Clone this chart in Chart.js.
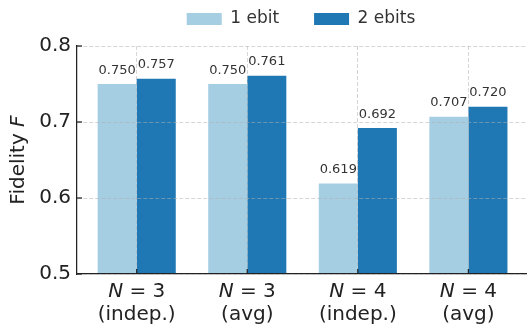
<!DOCTYPE html>
<html><head><meta charset="utf-8">
<script src="https://cdn.jsdelivr.net/npm/chart.js@4"></script>
<style>html,body{margin:0;padding:0;background:#fff;}canvas{display:block;}</style>
</head><body>
<canvas id="c" width="527" height="325" style="width:527px;height:325px"></canvas>
<script>
const categories = [['N = 3', '(indep.)'], ['N = 3', '(avg)'], ['N = 4', '(indep.)'], ['N = 4', '(avg)']];
const seriesNames = ['1 ebit', '2 ebits'];
const series1 = [0.750, 0.750, 0.619, 0.707];
const series2 = [0.757, 0.761, 0.692, 0.720];
const yTicks = [0.5, 0.6, 0.7, 0.8];
const yTitle = ['Fidelity ', 'F'];

const FONT = "'DejaVu Sans'";
Chart.defaults.font.family = FONT;
const gridColor = 'rgba(176,176,176,0.65)';
const axisColor = '#222';

const extras = {
  id: 'extras',
  afterLayout(chart) {
    // centre the legend over the plot area, as in the reference
    if (chart.legend) { chart.legend.left = chart.chartArea.left - 2; }
  },
  afterDraw(chart) {
    const ctx = chart.ctx;
    const xs = chart.scales.x, ys = chart.scales.y;
    const area = chart.chartArea;
    ctx.save();
    // inward tick marks
    ctx.strokeStyle = axisColor; ctx.lineWidth = 1.25;
    ys.ticks.forEach(t => {
      const y = ys.getPixelForValue(t.value);
      ctx.beginPath(); ctx.moveTo(area.left, y); ctx.lineTo(area.left + 5, y); ctx.stroke();
    });
    xs.ticks.forEach(t => {
      const x = xs.getPixelForValue(t.value);
      ctx.beginPath(); ctx.moveTo(x, area.bottom); ctx.lineTo(x, area.bottom - 5); ctx.stroke();
    });
    // value labels
    ctx.fillStyle = '#333';
    ctx.font = '13px ' + FONT;
    ctx.textAlign = 'center'; ctx.textBaseline = 'alphabetic';
    chart.data.datasets.forEach((ds, di) => {
      const meta = chart.getDatasetMeta(di);
      meta.data.forEach((bar, i) => {
        ctx.fillText(ds.data[i].y.toFixed(3), bar.x, bar.y - 10.5);
      });
    });
    // x category labels (italic N)
    ctx.fillStyle = axisColor;
    categories.forEach((lines, i) => {
      const x = xs.getPixelForValue(i);
      const first = lines[0];
      const a = first.slice(0, 1), b = first.slice(1);
      ctx.textAlign = 'left';
      ctx.font = 'italic 20px ' + FONT;
      const wa = ctx.measureText(a).width;
      ctx.font = '20px ' + FONT;
      const wb = ctx.measureText(b).width;
      const x0 = x - (wa + wb) / 2;
      ctx.font = 'italic 20px ' + FONT;
      ctx.fillText(a, x0, area.bottom + 22.5);
      ctx.font = '20px ' + FONT;
      ctx.fillText(b, x0 + wa, area.bottom + 22.5);
      ctx.textAlign = 'center';
      ctx.fillText(lines[1], x, area.bottom + 46);
    });
    // y title
    ctx.translate(24, (area.top + area.bottom) / 2);
    ctx.rotate(-Math.PI / 2);
    ctx.textAlign = 'left';
    ctx.font = '20px ' + FONT;
    const w1 = ctx.measureText(yTitle[0]).width;
    ctx.font = 'italic 20px ' + FONT;
    const w2 = ctx.measureText(yTitle[1]).width;
    const sx = -(w1 + w2) / 2;
    ctx.font = '20px ' + FONT;
    ctx.fillText(yTitle[0], sx, 0);
    ctx.font = 'italic 20px ' + FONT;
    ctx.fillText(yTitle[1], sx + w1, 0);
    ctx.restore();
  }
};

new Chart(document.getElementById('c'), {
  type: 'bar',
  data: {
    datasets: [
      { label: seriesNames[0], data: series1.map((v, i) => ({x: i, y: v})), backgroundColor: '#a6cee3', xAxisID: 'x', yAxisID: 'y' },
      { label: seriesNames[1], data: series2.map((v, i) => ({x: i, y: v})), backgroundColor: '#1f78b4', xAxisID: 'x', yAxisID: 'y' }
    ]
  },
  options: {
    responsive: false,
    devicePixelRatio: 1,
    animation: false,
    barPercentage: 1,
    categoryPercentage: 0.7065,
    layout: { padding: { left: 0, top: -24.5, right: 0, bottom: 0 } },
    plugins: {
      legend: {
        position: 'top', align: 'center',
        labels: { boxWidth: 35, boxHeight: 12, padding: 35, color: '#333', font: { size: 17 } }
      },
      tooltip: { enabled: false }
    },
    scales: {
      x: {
        type: 'linear', position: 'bottom', min: -0.54, max: 3.53, offset: false,
        afterBuildTicks: s => { s.ticks = categories.map((c, i) => ({ value: i })); },
        afterFit: s => { s.height = 51; },
        ticks: { display: false },
        grid: { color: gridColor, lineWidth: 0.8, drawTicks: false, offset: false, z: 1 },
        border: { display: true, color: axisColor, width: 1.25, dash: [4, 2], z: 1 }
      },
      top: {
        type: 'linear', position: 'top', display: true, offset: false,
        grid: { display: false }, border: { display: false }, ticks: { display: false },
        afterFit: s => { s.height = 8.5; }
      },
      y: {
        type: 'linear', position: 'left', min: 0.5, max: 0.8,
        afterBuildTicks: s => { s.ticks = yTicks.map(v => ({ value: v })); },
        afterFit: s => { s.width = 77; },
        ticks: { padding: 6, color: axisColor, font: { size: 20 }, callback: v => Number(v).toFixed(1) },
        grid: { color: gridColor, lineWidth: 0.8, drawTicks: false, z: 1 },
        border: { display: true, color: axisColor, width: 1.25, dash: [4, 2], z: 1 }
      }
    }
  },
  plugins: [extras]
});
</script>
</body></html>
